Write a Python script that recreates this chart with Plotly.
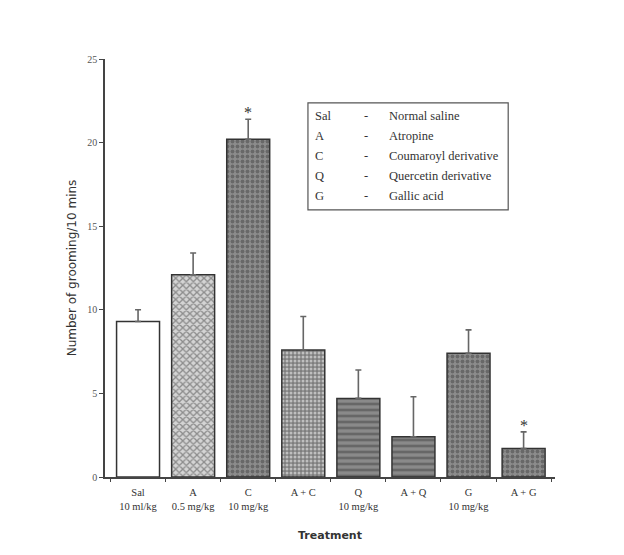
import plotly.graph_objects as go

categories = ["Sal<br>10 ml/kg", "A<br>0.5 mg/kg", "C<br>10 mg/kg", "A + C",
              "Q<br>10 mg/kg", "A + Q", "G<br>10 mg/kg", "A + G"]
means = [9.3, 12.1, 20.2, 7.6, 4.7, 2.4, 7.4, 1.7]
sem = [0.7, 1.3, 1.2, 2.0, 1.7, 2.4, 1.4, 1.0]
significant = [False, False, True, False, False, False, False, True]

bg_colors = ["#ffffff", "#d4d4d4", "#8c8c8c", "#7e7e7e", "#8a8a8a", "#8a8a8a", "#8c8c8c", "#8c8c8c"]
fg_colors = ["#ffffff", "#8a8a8a", "#e8e8e8", "#dcdcdc", "#f0f0f0", "#f0f0f0", "#e8e8e8", "#e8e8e8"]
shapes_pat = ["", "x", ".", ".", "-", "-", ".", "."]
pat_sizes = [5, 5, 5, 4, 6, 6, 5, 5]

legend_abbr = ["Sal", "A", "C", "Q", "G"]
legend_desc = ["Normal saline", "Atropine", "Coumaroyl derivative", "Quercetin derivative", "Gallic acid"]

fig = go.Figure()
fig.add_trace(go.Bar(
    x=categories, y=means,
    marker=dict(
        color=bg_colors,
        line=dict(color="#333333", width=1.5),
        pattern=dict(shape=shapes_pat, bgcolor=bg_colors, fgcolor=fg_colors,
                     size=pat_sizes, solidity=0.45, fillmode="overlay"),
    ),
    error_y=dict(type="data", array=sem, arrayminus=[0]*len(sem), symmetric=False,
                 color="#666666", thickness=1.6, width=3),
    showlegend=False,
))

serif = "Liberation Serif, Times New Roman, serif"

annotations = []
for i, (c, m, s, sig) in enumerate(zip(categories, means, sem, significant)):
    if sig:
        annotations.append(dict(x=c, y=m + s, xref="x", yref="y", text="*",
                                showarrow=False, yanchor="bottom", yshift=-4,
                                font=dict(family=serif, size=16, color="#333333")))

row_y = [0.864, 0.816, 0.768, 0.720, 0.672]
for a, d, yy in zip(legend_abbr, legend_desc, row_y):
    annotations.append(dict(x=0.462, y=yy, xref="paper", yref="paper", text=a,
                            showarrow=False, xanchor="left", yanchor="middle",
                            font=dict(family=serif, size=12.5, color="#333")))
    annotations.append(dict(x=0.571, y=yy, xref="paper", yref="paper", text="-",
                            showarrow=False, xanchor="left", yanchor="middle",
                            font=dict(family=serif, size=12.5, color="#333")))
    annotations.append(dict(x=0.627, y=yy, xref="paper", yref="paper", text=d,
                            showarrow=False, xanchor="left", yanchor="middle",
                            font=dict(family=serif, size=12.5, color="#333")))

fig.update_layout(
    width=624, height=555,
    margin=dict(l=97, r=77, t=51, b=86),
    paper_bgcolor="white", plot_bgcolor="white",
    bargap=0.22,
    annotations=annotations,
    shapes=[dict(type="rect", xref="paper", yref="paper",
                 x0=0.451, x1=0.896, y0=0.639, y1=0.895,
                 line=dict(color="#555", width=1.2), fillcolor="rgba(0,0,0,0)")],
)
fig.update_xaxes(
    range=[-0.6, 7.57],
    showline=True, linecolor="#444", linewidth=1.5,
    ticks="outside", tickson="boundaries", ticklen=3, tickcolor="#444",
    ticklabelstandoff=5,
    tickfont=dict(family=serif, size=10.5, color="#333"),
    title=dict(text="<b>Treatment</b>", font=dict(family="DejaVu Sans", size=11, color="#333"),
               standoff=20),
    showgrid=False,
)
fig.update_yaxes(
    range=[0, 25], tickvals=[0, 5, 10, 15, 20, 25],
    showline=True, linecolor="#444", linewidth=1.5,
    ticks="outside", ticklen=4, tickcolor="#444",
    tickfont=dict(family=serif, size=10, color="#555"),
    title=dict(text="Number of grooming/10 mins", font=dict(family="DejaVu Sans", size=12, color="#333"),
               standoff=8),
    showgrid=False, zeroline=False,
)

fig.write_html("out.html")
